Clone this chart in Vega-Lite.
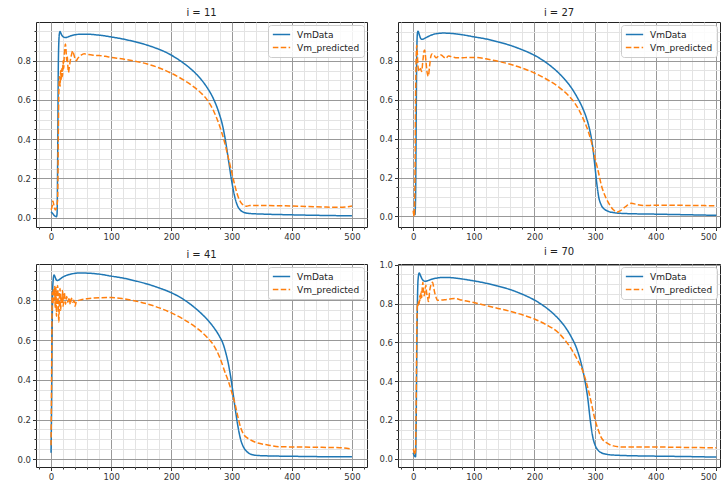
{
  "$schema": "https://vega.github.io/schema/vega-lite/v6.json",
  "padding": {"left": 16, "top": 7, "right": 0, "bottom": 0},
  "background": "white",
  "config": {
    "font": "DejaVu Sans",
    "view": {"stroke": "#222222", "strokeWidth": 1},
    "axis": {"labelFont": "DejaVu Sans", "labelFontSize": 8.5, "labelColor": "#333333", "tickColor": "#333333", "domain": false, "title": null, "labelOverlap": false, "labelPadding": 2, "gridWidth": 1},
    "legend": {"orient": "top-right", "offset": 3, "title": null, "labelFont": "DejaVu Sans", "labelFontSize": 9, "labelColor": "#222222", "labelOffset": 6, "symbolType": "stroke", "symbolSize": 300, "clipHeight": 11, "symbolStrokeWidth": 1.5, "fillColor": "rgba(255,255,255,0.85)", "strokeColor": "#cccccc", "cornerRadius": 3, "padding": 4, "rowPadding": 2, "labelLimit": 0},
    "title": {"font": "DejaVu Sans", "fontSize": 10, "fontWeight": "normal", "color": "#222222", "offset": 4},
    "line": {"strokeWidth": 1.5}
  },
  "datasets": {
    "p11": [
      {"s":"VmData","t":0,"v":0.03},{"s":"VmData","t":3,"v":0.02},{"s":"VmData","t":6,"v":0.01},{"s":"VmData","t":9,"v":0.005},{"s":"VmData","t":10,"v":0.02},{"s":"VmData","t":11,"v":0.3},{"s":"VmData","t":12,"v":0.75},{"s":"VmData","t":13,"v":0.9},{"s":"VmData","t":14,"v":0.94},{"s":"VmData","t":15,"v":0.948},{"s":"VmData","t":17,"v":0.935},{"s":"VmData","t":20,"v":0.922},{"s":"VmData","t":23,"v":0.918},{"s":"VmData","t":27,"v":0.92},{"s":"VmData","t":32,"v":0.926},{"s":"VmData","t":40,"v":0.932},{"s":"VmData","t":50,"v":0.935},{"s":"VmData","t":60,"v":0.935},{"s":"VmData","t":70,"v":0.933},{"s":"VmData","t":80,"v":0.93},{"s":"VmData","t":90,"v":0.926},{"s":"VmData","t":100,"v":0.921},{"s":"VmData","t":120,"v":0.91},{"s":"VmData","t":140,"v":0.896},{"s":"VmData","t":160,"v":0.879},{"s":"VmData","t":180,"v":0.857},{"s":"VmData","t":190,"v":0.844},{"s":"VmData","t":200,"v":0.828},{"s":"VmData","t":210,"v":0.809},{"s":"VmData","t":220,"v":0.788},{"s":"VmData","t":230,"v":0.764},{"s":"VmData","t":240,"v":0.736},{"s":"VmData","t":250,"v":0.702},{"s":"VmData","t":260,"v":0.66},{"s":"VmData","t":270,"v":0.605},{"s":"VmData","t":280,"v":0.525},{"s":"VmData","t":285,"v":0.47},{"s":"VmData","t":290,"v":0.39},{"s":"VmData","t":295,"v":0.29},{"s":"VmData","t":300,"v":0.19},{"s":"VmData","t":305,"v":0.11},{"s":"VmData","t":310,"v":0.06},{"s":"VmData","t":315,"v":0.038},{"s":"VmData","t":320,"v":0.028},{"s":"VmData","t":330,"v":0.022},{"s":"VmData","t":350,"v":0.019},{"s":"VmData","t":400,"v":0.015},{"s":"VmData","t":450,"v":0.012},{"s":"VmData","t":500,"v":0.01},
      {"s":"Vm_predicted","t":0,"v":0.04},{"s":"Vm_predicted","t":2,"v":0.06},{"s":"Vm_predicted","t":3,"v":0.085},{"s":"Vm_predicted","t":5,"v":0.06},{"s":"Vm_predicted","t":7,"v":0.04},{"s":"Vm_predicted","t":9,"v":0.05},{"s":"Vm_predicted","t":11,"v":0.1},{"s":"Vm_predicted","t":12,"v":0.4},{"s":"Vm_predicted","t":13,"v":0.65},{"s":"Vm_predicted","t":14,"v":0.72},{"s":"Vm_predicted","t":15,"v":0.67},{"s":"Vm_predicted","t":16,"v":0.75},{"s":"Vm_predicted","t":17,"v":0.7},{"s":"Vm_predicted","t":18,"v":0.76},{"s":"Vm_predicted","t":19,"v":0.72},{"s":"Vm_predicted","t":20,"v":0.8},{"s":"Vm_predicted","t":21,"v":0.76},{"s":"Vm_predicted","t":22,"v":0.83},{"s":"Vm_predicted","t":23,"v":0.87},{"s":"Vm_predicted","t":24,"v":0.885},{"s":"Vm_predicted","t":25,"v":0.85},{"s":"Vm_predicted","t":26,"v":0.8},{"s":"Vm_predicted","t":27,"v":0.82},{"s":"Vm_predicted","t":28,"v":0.77},{"s":"Vm_predicted","t":29,"v":0.74},{"s":"Vm_predicted","t":30,"v":0.76},{"s":"Vm_predicted","t":32,"v":0.8},{"s":"Vm_predicted","t":34,"v":0.83},{"s":"Vm_predicted","t":36,"v":0.85},{"s":"Vm_predicted","t":38,"v":0.83},{"s":"Vm_predicted","t":40,"v":0.81},{"s":"Vm_predicted","t":42,"v":0.8},{"s":"Vm_predicted","t":44,"v":0.81},{"s":"Vm_predicted","t":47,"v":0.82},{"s":"Vm_predicted","t":50,"v":0.828},{"s":"Vm_predicted","t":55,"v":0.835},{"s":"Vm_predicted","t":60,"v":0.832},{"s":"Vm_predicted","t":70,"v":0.828},{"s":"Vm_predicted","t":80,"v":0.826},{"s":"Vm_predicted","t":90,"v":0.822},{"s":"Vm_predicted","t":100,"v":0.817},{"s":"Vm_predicted","t":120,"v":0.808},{"s":"Vm_predicted","t":140,"v":0.797},{"s":"Vm_predicted","t":160,"v":0.783},{"s":"Vm_predicted","t":180,"v":0.763},{"s":"Vm_predicted","t":200,"v":0.736},{"s":"Vm_predicted","t":220,"v":0.702},{"s":"Vm_predicted","t":240,"v":0.66},{"s":"Vm_predicted","t":250,"v":0.633},{"s":"Vm_predicted","t":260,"v":0.598},{"s":"Vm_predicted","t":270,"v":0.545},{"s":"Vm_predicted","t":280,"v":0.468},{"s":"Vm_predicted","t":287,"v":0.4},{"s":"Vm_predicted","t":295,"v":0.3},{"s":"Vm_predicted","t":300,"v":0.235},{"s":"Vm_predicted","t":305,"v":0.17},{"s":"Vm_predicted","t":310,"v":0.115},{"s":"Vm_predicted","t":315,"v":0.08},{"s":"Vm_predicted","t":320,"v":0.064},{"s":"Vm_predicted","t":325,"v":0.059},{"s":"Vm_predicted","t":330,"v":0.062},{"s":"Vm_predicted","t":350,"v":0.062},{"s":"Vm_predicted","t":400,"v":0.06},{"s":"Vm_predicted","t":450,"v":0.055},{"s":"Vm_predicted","t":480,"v":0.053},{"s":"Vm_predicted","t":500,"v":0.06}
    ],
    "p27": [
      {"s":"VmData","t":0,"v":0.02},{"s":"VmData","t":2,"v":0.015},{"s":"VmData","t":3,"v":0.01},{"s":"VmData","t":4,"v":0.1},{"s":"VmData","t":5,"v":0.5},{"s":"VmData","t":6,"v":0.85},{"s":"VmData","t":7,"v":0.94},{"s":"VmData","t":8,"v":0.952},{"s":"VmData","t":10,"v":0.935},{"s":"VmData","t":12,"v":0.917},{"s":"VmData","t":14,"v":0.91},{"s":"VmData","t":17,"v":0.912},{"s":"VmData","t":22,"v":0.92},{"s":"VmData","t":30,"v":0.932},{"s":"VmData","t":40,"v":0.94},{"s":"VmData","t":50,"v":0.942},{"s":"VmData","t":60,"v":0.941},{"s":"VmData","t":80,"v":0.934},{"s":"VmData","t":100,"v":0.923},{"s":"VmData","t":120,"v":0.912},{"s":"VmData","t":140,"v":0.897},{"s":"VmData","t":160,"v":0.879},{"s":"VmData","t":180,"v":0.856},{"s":"VmData","t":190,"v":0.843},{"s":"VmData","t":200,"v":0.828},{"s":"VmData","t":210,"v":0.81},{"s":"VmData","t":220,"v":0.789},{"s":"VmData","t":230,"v":0.765},{"s":"VmData","t":240,"v":0.737},{"s":"VmData","t":250,"v":0.704},{"s":"VmData","t":260,"v":0.665},{"s":"VmData","t":270,"v":0.615},{"s":"VmData","t":280,"v":0.553},{"s":"VmData","t":285,"v":0.513},{"s":"VmData","t":290,"v":0.46},{"s":"VmData","t":294,"v":0.4},{"s":"VmData","t":297,"v":0.335},{"s":"VmData","t":300,"v":0.25},{"s":"VmData","t":303,"v":0.165},{"s":"VmData","t":306,"v":0.1},{"s":"VmData","t":310,"v":0.06},{"s":"VmData","t":315,"v":0.038},{"s":"VmData","t":320,"v":0.029},{"s":"VmData","t":330,"v":0.02},{"s":"VmData","t":350,"v":0.015},{"s":"VmData","t":400,"v":0.012},{"s":"VmData","t":450,"v":0.009},{"s":"VmData","t":500,"v":0.006},
      {"s":"Vm_predicted","t":0,"v":0.03},{"s":"Vm_predicted","t":1,"v":0.01},{"s":"Vm_predicted","t":2,"v":0.0},{"s":"Vm_predicted","t":3,"v":0.2},{"s":"Vm_predicted","t":4,"v":0.6},{"s":"Vm_predicted","t":5,"v":0.82},{"s":"Vm_predicted","t":6,"v":0.88},{"s":"Vm_predicted","t":7,"v":0.83},{"s":"Vm_predicted","t":8,"v":0.77},{"s":"Vm_predicted","t":10,"v":0.745},{"s":"Vm_predicted","t":12,"v":0.76},{"s":"Vm_predicted","t":14,"v":0.745},{"s":"Vm_predicted","t":16,"v":0.8},{"s":"Vm_predicted","t":18,"v":0.85},{"s":"Vm_predicted","t":19,"v":0.855},{"s":"Vm_predicted","t":21,"v":0.8},{"s":"Vm_predicted","t":23,"v":0.74},{"s":"Vm_predicted","t":25,"v":0.72},{"s":"Vm_predicted","t":27,"v":0.77},{"s":"Vm_predicted","t":29,"v":0.82},{"s":"Vm_predicted","t":31,"v":0.835},{"s":"Vm_predicted","t":34,"v":0.83},{"s":"Vm_predicted","t":38,"v":0.815},{"s":"Vm_predicted","t":42,"v":0.825},{"s":"Vm_predicted","t":46,"v":0.83},{"s":"Vm_predicted","t":50,"v":0.82},{"s":"Vm_predicted","t":54,"v":0.812},{"s":"Vm_predicted","t":58,"v":0.825},{"s":"Vm_predicted","t":62,"v":0.822},{"s":"Vm_predicted","t":70,"v":0.816},{"s":"Vm_predicted","t":80,"v":0.815},{"s":"Vm_predicted","t":90,"v":0.817},{"s":"Vm_predicted","t":100,"v":0.817},{"s":"Vm_predicted","t":120,"v":0.81},{"s":"Vm_predicted","t":140,"v":0.797},{"s":"Vm_predicted","t":160,"v":0.782},{"s":"Vm_predicted","t":180,"v":0.762},{"s":"Vm_predicted","t":200,"v":0.737},{"s":"Vm_predicted","t":220,"v":0.705},{"s":"Vm_predicted","t":240,"v":0.665},{"s":"Vm_predicted","t":256,"v":0.622},{"s":"Vm_predicted","t":266,"v":0.585},{"s":"Vm_predicted","t":280,"v":0.505},{"s":"Vm_predicted","t":290,"v":0.425},{"s":"Vm_predicted","t":295,"v":0.37},{"s":"Vm_predicted","t":300,"v":0.3},{"s":"Vm_predicted","t":305,"v":0.235},{"s":"Vm_predicted","t":310,"v":0.165},{"s":"Vm_predicted","t":318,"v":0.095},{"s":"Vm_predicted","t":325,"v":0.055},{"s":"Vm_predicted","t":330,"v":0.035},{"s":"Vm_predicted","t":336,"v":0.022},{"s":"Vm_predicted","t":342,"v":0.03},{"s":"Vm_predicted","t":350,"v":0.05},{"s":"Vm_predicted","t":360,"v":0.068},{"s":"Vm_predicted","t":368,"v":0.062},{"s":"Vm_predicted","t":380,"v":0.056},{"s":"Vm_predicted","t":400,"v":0.058},{"s":"Vm_predicted","t":450,"v":0.057},{"s":"Vm_predicted","t":500,"v":0.055}
    ],
    "p41": [
      {"s":"VmData","t":0,"v":0.033},{"s":"VmData","t":1,"v":0.3},{"s":"VmData","t":2,"v":0.7},{"s":"VmData","t":3,"v":0.88},{"s":"VmData","t":5,"v":0.928},{"s":"VmData","t":7,"v":0.915},{"s":"VmData","t":9,"v":0.902},{"s":"VmData","t":11,"v":0.9},{"s":"VmData","t":14,"v":0.905},{"s":"VmData","t":20,"v":0.918},{"s":"VmData","t":30,"v":0.93},{"s":"VmData","t":40,"v":0.936},{"s":"VmData","t":50,"v":0.938},{"s":"VmData","t":60,"v":0.937},{"s":"VmData","t":80,"v":0.932},{"s":"VmData","t":100,"v":0.922},{"s":"VmData","t":120,"v":0.912},{"s":"VmData","t":140,"v":0.898},{"s":"VmData","t":160,"v":0.882},{"s":"VmData","t":180,"v":0.862},{"s":"VmData","t":190,"v":0.851},{"s":"VmData","t":200,"v":0.838},{"s":"VmData","t":210,"v":0.823},{"s":"VmData","t":220,"v":0.805},{"s":"VmData","t":230,"v":0.784},{"s":"VmData","t":240,"v":0.76},{"s":"VmData","t":250,"v":0.733},{"s":"VmData","t":260,"v":0.702},{"s":"VmData","t":270,"v":0.665},{"s":"VmData","t":280,"v":0.618},{"s":"VmData","t":285,"v":0.588},{"s":"VmData","t":290,"v":0.54},{"s":"VmData","t":295,"v":0.475},{"s":"VmData","t":300,"v":0.385},{"s":"VmData","t":303,"v":0.32},{"s":"VmData","t":306,"v":0.255},{"s":"VmData","t":310,"v":0.175},{"s":"VmData","t":315,"v":0.1},{"s":"VmData","t":320,"v":0.06},{"s":"VmData","t":325,"v":0.04},{"s":"VmData","t":330,"v":0.028},{"s":"VmData","t":340,"v":0.02},{"s":"VmData","t":360,"v":0.017},{"s":"VmData","t":400,"v":0.015},{"s":"VmData","t":450,"v":0.013},{"s":"VmData","t":500,"v":0.012},
      {"s":"Vm_predicted","t":0,"v":0.07},{"s":"Vm_predicted","t":1,"v":0.45},{"s":"Vm_predicted","t":2,"v":0.84},{"s":"Vm_predicted","t":3,"v":0.78},{"s":"Vm_predicted","t":4,"v":0.86},{"s":"Vm_predicted","t":5,"v":0.8},{"s":"Vm_predicted","t":6,"v":0.87},{"s":"Vm_predicted","t":7,"v":0.76},{"s":"Vm_predicted","t":8,"v":0.87},{"s":"Vm_predicted","t":9,"v":0.72},{"s":"Vm_predicted","t":10,"v":0.85},{"s":"Vm_predicted","t":11,"v":0.875},{"s":"Vm_predicted","t":12,"v":0.78},{"s":"Vm_predicted","t":13,"v":0.69},{"s":"Vm_predicted","t":14,"v":0.83},{"s":"Vm_predicted","t":15,"v":0.86},{"s":"Vm_predicted","t":16,"v":0.75},{"s":"Vm_predicted","t":17,"v":0.82},{"s":"Vm_predicted","t":18,"v":0.79},{"s":"Vm_predicted","t":19,"v":0.85},{"s":"Vm_predicted","t":20,"v":0.77},{"s":"Vm_predicted","t":22,"v":0.84},{"s":"Vm_predicted","t":24,"v":0.78},{"s":"Vm_predicted","t":26,"v":0.82},{"s":"Vm_predicted","t":28,"v":0.79},{"s":"Vm_predicted","t":30,"v":0.815},{"s":"Vm_predicted","t":32,"v":0.78},{"s":"Vm_predicted","t":34,"v":0.81},{"s":"Vm_predicted","t":36,"v":0.79},{"s":"Vm_predicted","t":38,"v":0.8},{"s":"Vm_predicted","t":40,"v":0.77},{"s":"Vm_predicted","t":42,"v":0.795},{"s":"Vm_predicted","t":46,"v":0.8},{"s":"Vm_predicted","t":50,"v":0.803},{"s":"Vm_predicted","t":60,"v":0.808},{"s":"Vm_predicted","t":80,"v":0.813},{"s":"Vm_predicted","t":100,"v":0.814},{"s":"Vm_predicted","t":120,"v":0.808},{"s":"Vm_predicted","t":140,"v":0.797},{"s":"Vm_predicted","t":160,"v":0.782},{"s":"Vm_predicted","t":180,"v":0.762},{"s":"Vm_predicted","t":200,"v":0.737},{"s":"Vm_predicted","t":220,"v":0.705},{"s":"Vm_predicted","t":240,"v":0.665},{"s":"Vm_predicted","t":260,"v":0.612},{"s":"Vm_predicted","t":270,"v":0.575},{"s":"Vm_predicted","t":280,"v":0.515},{"s":"Vm_predicted","t":290,"v":0.43},{"s":"Vm_predicted","t":295,"v":0.39},{"s":"Vm_predicted","t":300,"v":0.34},{"s":"Vm_predicted","t":303,"v":0.31},{"s":"Vm_predicted","t":306,"v":0.275},{"s":"Vm_predicted","t":310,"v":0.22},{"s":"Vm_predicted","t":315,"v":0.16},{"s":"Vm_predicted","t":320,"v":0.125},{"s":"Vm_predicted","t":330,"v":0.1},{"s":"Vm_predicted","t":340,"v":0.085},{"s":"Vm_predicted","t":360,"v":0.072},{"s":"Vm_predicted","t":380,"v":0.063},{"s":"Vm_predicted","t":400,"v":0.062},{"s":"Vm_predicted","t":450,"v":0.06},{"s":"Vm_predicted","t":480,"v":0.058},{"s":"Vm_predicted","t":500,"v":0.052}
    ],
    "p70": [
      {"s":"VmData","t":0,"v":0.03},{"s":"VmData","t":2,"v":0.015},{"s":"VmData","t":4,"v":0.01},{"s":"VmData","t":5,"v":0.2},{"s":"VmData","t":6,"v":0.55},{"s":"VmData","t":7,"v":0.8},{"s":"VmData","t":8,"v":0.92},{"s":"VmData","t":10,"v":0.958},{"s":"VmData","t":12,"v":0.945},{"s":"VmData","t":15,"v":0.925},{"s":"VmData","t":19,"v":0.915},{"s":"VmData","t":24,"v":0.918},{"s":"VmData","t":30,"v":0.925},{"s":"VmData","t":40,"v":0.932},{"s":"VmData","t":50,"v":0.935},{"s":"VmData","t":60,"v":0.934},{"s":"VmData","t":80,"v":0.927},{"s":"VmData","t":100,"v":0.917},{"s":"VmData","t":120,"v":0.905},{"s":"VmData","t":140,"v":0.89},{"s":"VmData","t":160,"v":0.872},{"s":"VmData","t":180,"v":0.848},{"s":"VmData","t":190,"v":0.834},{"s":"VmData","t":200,"v":0.818},{"s":"VmData","t":210,"v":0.799},{"s":"VmData","t":220,"v":0.777},{"s":"VmData","t":230,"v":0.751},{"s":"VmData","t":240,"v":0.72},{"s":"VmData","t":250,"v":0.682},{"s":"VmData","t":260,"v":0.632},{"s":"VmData","t":270,"v":0.565},{"s":"VmData","t":278,"v":0.48},{"s":"VmData","t":284,"v":0.39},{"s":"VmData","t":288,"v":0.31},{"s":"VmData","t":292,"v":0.2},{"s":"VmData","t":296,"v":0.115},{"s":"VmData","t":300,"v":0.07},{"s":"VmData","t":305,"v":0.043},{"s":"VmData","t":310,"v":0.031},{"s":"VmData","t":320,"v":0.022},{"s":"VmData","t":340,"v":0.017},{"s":"VmData","t":400,"v":0.013},{"s":"VmData","t":450,"v":0.011},{"s":"VmData","t":500,"v":0.008},
      {"s":"Vm_predicted","t":0,"v":0.05},{"s":"Vm_predicted","t":2,"v":0.03},{"s":"Vm_predicted","t":3,"v":0.02},{"s":"Vm_predicted","t":4,"v":0.05},{"s":"Vm_predicted","t":5,"v":0.3},{"s":"Vm_predicted","t":6,"v":0.65},{"s":"Vm_predicted","t":7,"v":0.8},{"s":"Vm_predicted","t":8,"v":0.79},{"s":"Vm_predicted","t":9,"v":0.815},{"s":"Vm_predicted","t":10,"v":0.8},{"s":"Vm_predicted","t":11,"v":0.84},{"s":"Vm_predicted","t":12,"v":0.82},{"s":"Vm_predicted","t":13,"v":0.86},{"s":"Vm_predicted","t":14,"v":0.83},{"s":"Vm_predicted","t":15,"v":0.88},{"s":"Vm_predicted","t":16,"v":0.91},{"s":"Vm_predicted","t":17,"v":0.87},{"s":"Vm_predicted","t":18,"v":0.84},{"s":"Vm_predicted","t":19,"v":0.85},{"s":"Vm_predicted","t":20,"v":0.88},{"s":"Vm_predicted","t":21,"v":0.895},{"s":"Vm_predicted","t":22,"v":0.86},{"s":"Vm_predicted","t":23,"v":0.84},{"s":"Vm_predicted","t":24,"v":0.83},{"s":"Vm_predicted","t":25,"v":0.81},{"s":"Vm_predicted","t":26,"v":0.82},{"s":"Vm_predicted","t":27,"v":0.86},{"s":"Vm_predicted","t":28,"v":0.88},{"s":"Vm_predicted","t":30,"v":0.9},{"s":"Vm_predicted","t":32,"v":0.91},{"s":"Vm_predicted","t":34,"v":0.88},{"s":"Vm_predicted","t":36,"v":0.85},{"s":"Vm_predicted","t":38,"v":0.83},{"s":"Vm_predicted","t":40,"v":0.817},{"s":"Vm_predicted","t":45,"v":0.818},{"s":"Vm_predicted","t":52,"v":0.82},{"s":"Vm_predicted","t":60,"v":0.823},{"s":"Vm_predicted","t":68,"v":0.826},{"s":"Vm_predicted","t":80,"v":0.818},{"s":"Vm_predicted","t":100,"v":0.805},{"s":"Vm_predicted","t":120,"v":0.79},{"s":"Vm_predicted","t":140,"v":0.775},{"s":"Vm_predicted","t":160,"v":0.76},{"s":"Vm_predicted","t":180,"v":0.742},{"s":"Vm_predicted","t":200,"v":0.72},{"s":"Vm_predicted","t":220,"v":0.69},{"s":"Vm_predicted","t":240,"v":0.648},{"s":"Vm_predicted","t":252,"v":0.605},{"s":"Vm_predicted","t":260,"v":0.57},{"s":"Vm_predicted","t":270,"v":0.515},{"s":"Vm_predicted","t":280,"v":0.45},{"s":"Vm_predicted","t":285,"v":0.4},{"s":"Vm_predicted","t":290,"v":0.34},{"s":"Vm_predicted","t":295,"v":0.27},{"s":"Vm_predicted","t":300,"v":0.2},{"s":"Vm_predicted","t":305,"v":0.15},{"s":"Vm_predicted","t":310,"v":0.11},{"s":"Vm_predicted","t":320,"v":0.08},{"s":"Vm_predicted","t":330,"v":0.066},{"s":"Vm_predicted","t":345,"v":0.06},{"s":"Vm_predicted","t":400,"v":0.06},{"s":"Vm_predicted","t":450,"v":0.058},{"s":"Vm_predicted","t":500,"v":0.056}
    ]
  },
  "spacing": 4,
  "resolve": {"scale": {"x": "independent", "y": "independent", "color": "independent", "strokeDash": "independent"}, "legend": {"color": "independent", "strokeDash": "independent"}},
  "vconcat": [
    {
      "spacing": 10,
      "resolve": {"scale": {"x": "independent", "y": "independent", "color": "independent", "strokeDash": "independent"}, "legend": {"color": "independent", "strokeDash": "independent"}},
      "hconcat": [
        {
          "title": "i = 11",
          "data": {"name": "p11"},
          "width": 331, "height": 205,
          "mark": {"type": "line", "strokeWidth": 1.5, "clip": true, "interpolate": "monotone"},
          "encoding": {
            "x": {"field": "t", "type": "quantitative", "scale": {"domain": [-25, 525], "nice": false, "zero": false},
              "axis": {"values": [-20,0,20,40,60,80,100,120,140,160,180,200,220,240,260,280,300,320,340,360,380,400,420,440,460,480,500,520],
                "labelExpr": "datum.value % 100 === 0 ? datum.label : ''",
                "gridColor": {"condition": {"test": "datum.value % 100 === 0", "value": "#999999"}, "value": "#e3e3e3"},
                "tickSize": {"condition": {"test": "datum.value % 100 === 0", "value": 3.5}, "value": 2}}},
            "y": {"field": "v", "type": "quantitative", "scale": {"domain": [-0.047, 0.997], "nice": false, "zero": false},
              "axis": {"values": [0,0.05,0.1,0.15,0.2,0.25,0.3,0.35,0.4,0.45,0.5,0.55,0.6,0.65,0.7,0.75,0.8,0.85,0.9,0.95],
                "labelExpr": "round(datum.value*20) % 4 === 0 ? format(datum.value, '.1f') : ''",
                "gridColor": {"condition": {"test": "round(datum.value*20) % 4 === 0", "value": "#999999"}, "value": "#e3e3e3"},
                "tickSize": {"condition": {"test": "round(datum.value*20) % 4 === 0", "value": 3.5}, "value": 2}}},
            "color": {"field": "s", "type": "nominal", "scale": {"domain": ["VmData", "Vm_predicted"], "range": ["#1f77b4", "#ff7f0e"]}},
            "strokeDash": {"field": "s", "type": "nominal", "scale": {"domain": ["VmData", "Vm_predicted"], "range": [[1, 0], [5.5, 2.4]]}}
          }
        },
        {
          "title": "i = 27",
          "data": {"name": "p27"},
          "width": 322, "height": 205,
          "mark": {"type": "line", "strokeWidth": 1.5, "clip": true, "interpolate": "monotone"},
          "encoding": {
            "x": {"field": "t", "type": "quantitative", "scale": {"domain": [-25, 506], "nice": false, "zero": false},
              "axis": {"values": [-20,0,20,40,60,80,100,120,140,160,180,200,220,240,260,280,300,320,340,360,380,400,420,440,460,480,500],
                "labelFlush": 8,
                "labelExpr": "datum.value % 100 === 0 ? datum.label : ''",
                "gridColor": {"condition": {"test": "datum.value % 100 === 0", "value": "#999999"}, "value": "#e3e3e3"},
                "tickSize": {"condition": {"test": "datum.value % 100 === 0", "value": 3.5}, "value": 2}}},
            "y": {"field": "v", "type": "quantitative", "scale": {"domain": [-0.054, 0.999], "nice": false, "zero": false},
              "axis": {"values": [0,0.05,0.1,0.15,0.2,0.25,0.3,0.35,0.4,0.45,0.5,0.55,0.6,0.65,0.7,0.75,0.8,0.85,0.9,0.95],
                "labelExpr": "round(datum.value*20) % 4 === 0 ? format(datum.value, '.1f') : ''",
                "gridColor": {"condition": {"test": "round(datum.value*20) % 4 === 0", "value": "#999999"}, "value": "#e3e3e3"},
                "tickSize": {"condition": {"test": "round(datum.value*20) % 4 === 0", "value": 3.5}, "value": 2}}},
            "color": {"field": "s", "type": "nominal", "scale": {"domain": ["VmData", "Vm_predicted"], "range": ["#1f77b4", "#ff7f0e"]}},
            "strokeDash": {"field": "s", "type": "nominal", "scale": {"domain": ["VmData", "Vm_predicted"], "range": [[1, 0], [5.5, 2.4]]}}
          }
        }
      ]
    },
    {
      "spacing": 10,
      "resolve": {"scale": {"x": "independent", "y": "independent", "color": "independent", "strokeDash": "independent"}, "legend": {"color": "independent", "strokeDash": "independent"}},
      "hconcat": [
        {
          "title": "i = 41",
          "data": {"name": "p41"},
          "width": 331, "height": 203,
          "mark": {"type": "line", "strokeWidth": 1.5, "clip": true, "interpolate": "monotone"},
          "encoding": {
            "x": {"field": "t", "type": "quantitative", "scale": {"domain": [-25, 525], "nice": false, "zero": false},
              "axis": {"values": [-20,0,20,40,60,80,100,120,140,160,180,200,220,240,260,280,300,320,340,360,380,400,420,440,460,480,500,520],
                "labelExpr": "datum.value % 100 === 0 ? datum.label : ''",
                "gridColor": {"condition": {"test": "datum.value % 100 === 0", "value": "#999999"}, "value": "#e3e3e3"},
                "tickSize": {"condition": {"test": "datum.value % 100 === 0", "value": 3.5}, "value": 2}}},
            "y": {"field": "v", "type": "quantitative", "scale": {"domain": [-0.039, 0.983], "nice": false, "zero": false},
              "axis": {"values": [0,0.05,0.1,0.15,0.2,0.25,0.3,0.35,0.4,0.45,0.5,0.55,0.6,0.65,0.7,0.75,0.8,0.85,0.9,0.95],
                "labelExpr": "round(datum.value*20) % 4 === 0 ? format(datum.value, '.1f') : ''",
                "gridColor": {"condition": {"test": "round(datum.value*20) % 4 === 0", "value": "#999999"}, "value": "#e3e3e3"},
                "tickSize": {"condition": {"test": "round(datum.value*20) % 4 === 0", "value": 3.5}, "value": 2}}},
            "color": {"field": "s", "type": "nominal", "scale": {"domain": ["VmData", "Vm_predicted"], "range": ["#1f77b4", "#ff7f0e"]}},
            "strokeDash": {"field": "s", "type": "nominal", "scale": {"domain": ["VmData", "Vm_predicted"], "range": [[1, 0], [5.5, 2.4]]}}
          }
        },
        {
          "title": "i = 70",
          "data": {"name": "p70"},
          "width": 322, "height": 203,
          "mark": {"type": "line", "strokeWidth": 1.5, "clip": true, "interpolate": "monotone"},
          "encoding": {
            "x": {"field": "t", "type": "quantitative", "scale": {"domain": [-25, 506], "nice": false, "zero": false},
              "axis": {"values": [-20,0,20,40,60,80,100,120,140,160,180,200,220,240,260,280,300,320,340,360,380,400,420,440,460,480,500],
                "labelFlush": 8,
                "labelExpr": "datum.value % 100 === 0 ? datum.label : ''",
                "gridColor": {"condition": {"test": "datum.value % 100 === 0", "value": "#999999"}, "value": "#e3e3e3"},
                "tickSize": {"condition": {"test": "datum.value % 100 === 0", "value": 3.5}, "value": 2}}},
            "y": {"field": "v", "type": "quantitative", "scale": {"domain": [-0.043, 1.004], "nice": false, "zero": false},
              "axis": {"values": [0,0.05,0.1,0.15,0.2,0.25,0.3,0.35,0.4,0.45,0.5,0.55,0.6,0.65,0.7,0.75,0.8,0.85,0.9,0.95,1.0],
                "labelExpr": "round(datum.value*20) % 4 === 0 ? format(datum.value, '.1f') : ''",
                "gridColor": {"condition": {"test": "round(datum.value*20) % 4 === 0", "value": "#999999"}, "value": "#e3e3e3"},
                "tickSize": {"condition": {"test": "round(datum.value*20) % 4 === 0", "value": 3.5}, "value": 2}}},
            "color": {"field": "s", "type": "nominal", "scale": {"domain": ["VmData", "Vm_predicted"], "range": ["#1f77b4", "#ff7f0e"]}},
            "strokeDash": {"field": "s", "type": "nominal", "scale": {"domain": ["VmData", "Vm_predicted"], "range": [[1, 0], [5.5, 2.4]]}}
          }
        }
      ]
    }
  ]
}
